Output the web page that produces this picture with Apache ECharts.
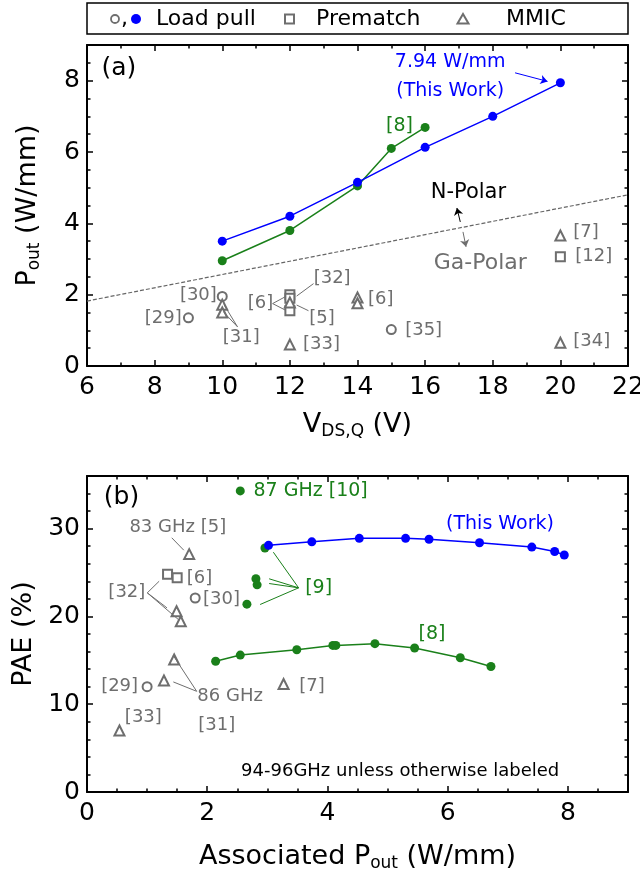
<!DOCTYPE html>
<html><head><meta charset="utf-8">
<script src="https://cdn.jsdelivr.net/npm/echarts@6/dist/echarts.min.js"></script>
<style>html,body{margin:0;padding:0;background:#fff}#c{width:640px;height:877px}</style>
</head><body><div id="c"></div><script>
// ---------- DATA: panel (a) Pout vs VDS,Q ----------
const vdsThisWork = [10, 12, 14, 16, 18, 20];
const poutThisWork = [3.5, 4.2, 5.15, 6.13, 7.0, 7.94];
const vdsRef8 = [10, 12, 14, 15, 16];
const poutRef8 = [2.95, 3.8, 5.05, 6.1, 6.69];
const boundaryV = [6, 22];
const boundaryP = [1.82, 4.8];
const aLoadPullGrey = [[9, 1.35], [10, 1.95], [15, 1.02]];
const aPrematch = [[12, 2.0], [12, 1.9], [12, 1.55], [20, 3.06]];
const aMMIC = [[10, 1.72], [10, 1.5], [12, 1.78], [14, 1.92], [14, 1.76], [12, 0.6], [20, 3.66], [20, 0.65]];

// ---------- DATA: panel (b) PAE vs associated Pout ----------
const bThisWorkP = [3.02, 3.74, 4.53, 5.30, 5.69, 6.53, 7.40, 7.78, 7.94];
const bThisWorkPAE = [28.1, 28.5, 28.9, 28.9, 28.8, 28.4, 27.9, 27.4, 27.0];
const bRef8P = [2.14, 2.55, 3.49, 4.09, 4.14, 4.79, 5.45, 6.21, 6.72];
const bRef8PAE = [14.9, 15.6, 16.2, 16.7, 16.7, 16.9, 16.4, 15.3, 14.3];
const bRef9 = [[2.96, 27.8], [2.81, 24.3], [2.83, 23.6], [2.66, 21.4]];
const bRef10 = [[2.55, 34.3]];
const bLoadPullGrey = [[1.80, 22.1], [1.00, 12.0]];
const bPrematch = [[1.34, 24.8], [1.50, 24.4]];
const bMMIC = [[1.70, 27.1], [1.49, 20.6], [1.56, 19.45], [1.45, 15.1], [1.28, 12.7], [0.54, 7.0], [3.27, 12.3]];

// ---------- tick labels ----------
const aXTicks = {min: 6, max: 22, major: 2, minor: 1};
const aYTicks = {min: 0, max: 9, major: 2, minor: 0.5};
const bXTicks = {min: 0, max: 9, major: 2, minor: 0.5};
const bYTicks = {min: 0, max: 36, major: 10, minor: 2};

// ---------- annotations (data coordinates) ----------
const notesA = [
  [6.43, 8.33, '(a)', 'k', 25, 'left'],
  [16.74, 8.51, '7.94 W/mm', 'b', 19, 'center'],
  [16.74, 7.72, '(This Work)', 'b', 19, 'center'],
  [15.24, 6.74, '[8]', 'g', 19, 'center'],
  [17.28, 4.86, 'N-Polar', 'k', 21, 'center'],
  [17.63, 2.87, 'Ga-Polar', 'gr', 22, 'center'],
  [8.80, 1.33, '[29]', 'gr', 18, 'right'],
  [9.84, 1.99, '[30]', 'gr', 18, 'right'],
  [10.56, 0.81, '[31]', 'gr', 18, 'center'],
  [11.13, 1.75, '[6]', 'gr', 18, 'center'],
  [13.25, 2.46, '[32]', 'gr', 18, 'center'],
  [12.95, 1.34, '[5]', 'gr', 18, 'center'],
  [14.31, 1.87, '[6]', 'gr', 18, 'left'],
  [12.39, 0.62, '[33]', 'gr', 18, 'left'],
  [15.41, 1.01, '[35]', 'gr', 18, 'left'],
  [20.38, 3.76, '[7]', 'gr', 18, 'left'],
  [20.44, 3.07, '[12]', 'gr', 18, 'left'],
  [20.38, 0.68, '[34]', 'gr', 18, 'left']
];
const leadersA = [
  [[10.45, 1.10], [10.05, 1.72], 'gr'], [[10.45, 1.10], [10.05, 1.50], 'gr'],
  [[11.49, 1.75], [11.86, 1.94], 'gr'], [[11.49, 1.75], [11.86, 1.57], 'gr'],
  [[12.70, 2.31], [12.20, 1.96], 'gr'], [[12.55, 1.55], [12.20, 1.71], 'gr']
];
const arrowsA = [
  [[18.66, 8.22], [19.62, 7.98], 'b'],
  [[17.04, 4.04], [16.94, 4.43], 'k'],
  [[17.12, 3.76], [17.21, 3.34], 'gr']
];
const notesB = [
  [0.28, 33.6, '(b)', 'k', 25, 'left'],
  [2.77, 34.28, '87 GHz [10]', 'g', 19, 'left'],
  [6.87, 30.48, '(This Work)', 'b', 19, 'center'],
  [5.74, 17.94, '[8]', 'g', 19, 'center'],
  [1.51, 30.1, '83 GHz [5]', 'gr', 18, 'center'],
  [0.97, 22.7, '[32]', 'gr', 18, 'right'],
  [1.66, 24.3, '[6]', 'gr', 18, 'left'],
  [1.93, 21.95, '[30]', 'gr', 18, 'left'],
  [3.63, 23.26, '[9]', 'g', 19, 'left'],
  [1.835, 10.9, '86 GHz', 'gr', 18, 'left'],
  [1.85, 7.56, '[31]', 'gr', 18, 'left'],
  [0.85, 12.04, '[29]', 'gr', 18, 'right'],
  [0.63, 8.47, '[33]', 'gr', 18, 'left'],
  [3.53, 12.04, '[7]', 'gr', 18, 'left'],
  [5.21, 2.32, '94-96GHz unless otherwise labeled', 'k', 18, 'center']
];
const leadersB = [
  [[1.41, 28.96], [1.61, 27.55], 'gr'],
  [[1.003, 22.69], [1.20, 24.01], 'gr'], [[1.003, 22.69], [1.33, 20.98], 'gr'], [[1.003, 22.69], [1.52, 19.65], 'gr'],
  [[3.52, 23.26], [3.10, 27.32], 'g'], [[3.52, 23.26], [3.03, 24.29], 'g'], [[3.52, 23.26], [3.03, 23.75], 'g'], [[3.52, 23.26], [2.88, 21.36], 'g'],
  [[1.825, 11.47], [1.436, 15.54], 'gr'], [[1.825, 11.47], [1.436, 12.54], 'gr']
];

// ---------- styling ----------
const FONT = 'DejaVu Sans';
const COL = {k: '#000000', b: '#0000ff', g: '#1a801a', gr: '#6e6e6e'};

const xAxes = [], yAxes = [];
function richName(big, small, rest) {
  return '{n|' + big + '}{s|' + small + '}{n|' + rest + '}';
}
const nameStyle = {
  rich: {
    n: {fontSize: 27, fontFamily: FONT, color: '#000', verticalAlign: 'middle', lineHeight: 30},
    s: {fontSize: 17, fontFamily: FONT, color: '#000', verticalAlign: 'bottom', lineHeight: 17}
  }
};
function makeAxes(g, X, Y, xName, yName, xGap, yGap, showXMax) {
  const common = {type: 'value', gridIndex: g, splitLine: {show: false}};
  const tickStyle = {color: '#000', width: 1.5};
  const xi = xAxes.length, yi = yAxes.length;
  ['bottom', 'top'].forEach(pos => {
    const lab = pos === 'bottom';
    xAxes.push(Object.assign({}, common, {
      position: pos, min: X.min, max: X.max, interval: X.major,
      axisLine: {show: true, onZero: false, lineStyle: {color: '#000', width: 2}},
      axisTick: {show: true, inside: true, length: 6, lineStyle: tickStyle},
      axisLabel: lab ? {show: true, color: '#000', fontSize: 25, fontFamily: FONT, margin: 9, showMaxLabel: showXMax} : {show: false},
      name: lab ? xName : '', nameLocation: 'middle', nameGap: xGap, nameTextStyle: nameStyle
    }));
    xAxes.push(Object.assign({}, common, {
      position: pos, min: X.min, max: X.max, interval: X.minor,
      axisLine: {show: false, onZero: false},
      axisTick: {show: true, inside: true, length: 3.5, lineStyle: tickStyle},
      axisLabel: {show: false}
    }));
  });
  ['left', 'right'].forEach(pos => {
    const lab = pos === 'left';
    yAxes.push(Object.assign({}, common, {
      position: pos, min: Y.min, max: Y.max, interval: Y.major,
      axisLine: {show: true, onZero: false, lineStyle: {color: '#000', width: 2}},
      axisTick: {show: true, inside: true, length: 6, lineStyle: tickStyle},
      axisLabel: lab ? {show: true, color: '#000', fontSize: 25, fontFamily: FONT, margin: 7, showMaxLabel: false} : {show: false},
      name: lab ? yName : '', nameLocation: 'middle', nameGap: yGap, nameTextStyle: nameStyle
    }));
    yAxes.push(Object.assign({}, common, {
      position: pos, min: Y.min, max: Y.max, interval: Y.minor,
      axisLine: {show: false, onZero: false},
      axisTick: {show: true, inside: true, length: 3.5, lineStyle: tickStyle},
      axisLabel: {show: false}
    }));
  });
  return [xi, yi];
}
const AX = [
  makeAxes(0, aXTicks, aYTicks, richName('V', 'DS,Q', ' (V)'), richName('P', 'out', ' (W/mm)'), 44, 44, true),
  makeAxes(1, bXTicks, bYTicks, richName('Associated P', 'out', ' (W/mm)'), '{n|PAE (%)}', 50, 44, false)
];

function pairs(xs, ys) { return xs.map((v, i) => [v, ys[i]]); }
function lineSeries(g, data, color) {
  return {type: 'line', xAxisIndex: AX[g][0], yAxisIndex: AX[g][1], data: data,
    symbol: 'circle', symbolSize: 9, itemStyle: {color: color, opacity: 1}, lineStyle: {color: color, width: 1.5}, z: 4};
}
function dotSeries(g, data, color) {
  return {type: 'scatter', xAxisIndex: AX[g][0], yAxisIndex: AX[g][1], data: data,
    symbol: 'circle', symbolSize: 9, itemStyle: {color: color, opacity: 1}, z: 4};
}
function greySeries(g, data, symbol, size) {
  return {type: 'scatter', xAxisIndex: AX[g][0], yAxisIndex: AX[g][1], data: data,
    symbol: symbol, symbolSize: size, itemStyle: {color: COL.gr, borderWidth: 2, opacity: 1}, z: 3};
}
function noteSeries(g, notes) {
  return {type: 'scatter', xAxisIndex: AX[g][0], yAxisIndex: AX[g][1], symbolSize: 1, silent: true, z: 10,
    itemStyle: {color: 'rgba(0,0,0,0)', opacity: 1},
    data: notes.map(n => ({value: [n[0], n[1]], label: {show: true, position: 'inside', formatter: n[2],
      color: COL[n[3]], opacity: 1, fontSize: n[4], fontFamily: FONT, align: n[5], verticalAlign: 'middle'}}))};
}
function leaderSeries(g, segs, arrow) {
  return {type: 'lines', coordinateSystem: 'cartesian2d', xAxisIndex: AX[g][0], yAxisIndex: AX[g][1],
    silent: true, z: 6, symbol: arrow ? ['none', 'arrow'] : ['none', 'none'], symbolSize: 7,
    data: segs.map(s => ({coords: [s[0], s[1]], lineStyle: {color: COL[s[2]], width: 1, opacity: 1, curveness: 0}}))};
}

const series = [
  {type: 'line', xAxisIndex: AX[0][0], yAxisIndex: AX[0][1], data: pairs(boundaryV, boundaryP), symbol: 'none',
    lineStyle: {color: '#666', width: 1.2, type: [4, 2]}, z: 2},
  lineSeries(0, pairs(vdsRef8, poutRef8), COL.g),
  lineSeries(0, pairs(vdsThisWork, poutThisWork), COL.b),
  greySeries(0, aLoadPullGrey, 'emptyCircle', 9),
  greySeries(0, aPrematch, 'emptyRect', 9),
  greySeries(0, aMMIC, 'emptyTriangle', 10),
  leaderSeries(0, leadersA, false),
  leaderSeries(0, arrowsA, true),
  noteSeries(0, notesA),
  lineSeries(1, pairs(bRef8P, bRef8PAE), COL.g),
  dotSeries(1, bRef9, COL.g),
  dotSeries(1, bRef10, COL.g),
  lineSeries(1, pairs(bThisWorkP, bThisWorkPAE), COL.b),
  greySeries(1, bLoadPullGrey, 'emptyCircle', 9),
  greySeries(1, bPrematch, 'emptyRect', 9),
  greySeries(1, bMMIC, 'emptyTriangle', 10),
  leaderSeries(1, leadersB, false),
  noteSeries(1, notesB)
];

const legendFont = {fontSize: 22, fontFamily: FONT, fill: '#000', verticalAlign: 'middle', align: 'left'};
const chart = echarts.init(document.getElementById('c'), null, {renderer: 'canvas'});
chart.setOption({
  animation: false,
  backgroundColor: '#fff',
  textStyle: {fontFamily: FONT},
  grid: [
    {left: 87, top: 45, width: 541, height: 321, containLabel: false, outerBoundsMode: 'none'},
    {left: 87, top: 476, width: 541, height: 316, containLabel: false, outerBoundsMode: 'none'}
  ],
  xAxis: xAxes,
  yAxis: yAxes,
  series: series,
  graphic: [
    {type: 'rect', shape: {x: 87, y: 3, width: 541, height: 31}, style: {fill: '#fff', stroke: '#000', lineWidth: 1.5}},
    {type: 'circle', shape: {cx: 115, cy: 19, r: 4}, style: {fill: '#fff', stroke: COL.gr, lineWidth: 1.8}},
    {type: 'text', style: Object.assign({text: ',', x: 121, y: 19}, legendFont)},
    {type: 'circle', shape: {cx: 136, cy: 19, r: 5}, style: {fill: COL.b}},
    {type: 'text', style: Object.assign({text: 'Load pull', x: 156, y: 19}, legendFont)},
    {type: 'rect', shape: {x: 285, y: 14.5, width: 9, height: 9}, style: {fill: '#fff', stroke: COL.gr, lineWidth: 2}},
    {type: 'text', style: Object.assign({text: 'Prematch', x: 316, y: 19}, legendFont)},
    {type: 'polygon', shape: {points: [[463, 14], [457.5, 23.5], [468.5, 23.5]]}, style: {fill: '#fff', stroke: COL.gr, lineWidth: 2}},
    {type: 'text', style: Object.assign({text: 'MMIC', x: 506, y: 19}, legendFont)}
  ]
});
</script></body></html>
